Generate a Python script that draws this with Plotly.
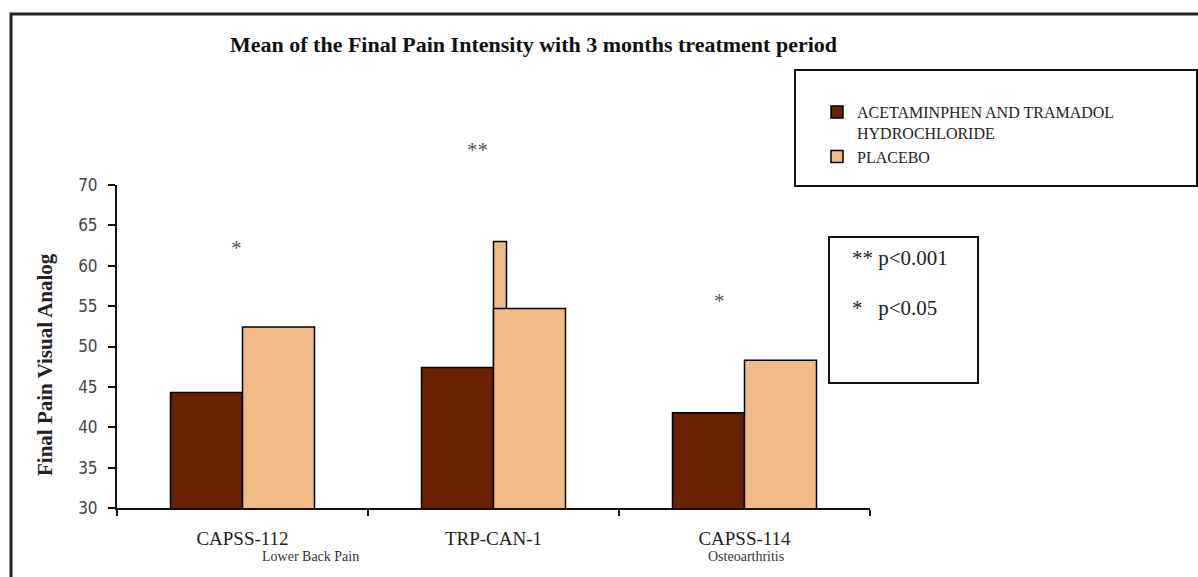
import plotly.graph_objects as go

# ---- data ----
categories = ["CAPSS-112", "TRP-CAN-1", "CAPSS-114"]
subtitles = ["Lower Back Pain", "", "Osteoarthritis"]
drug_values = [44.3, 47.4, 41.8]
placebo_values = [52.4, 54.7, 48.3]
spike_category = ["TRP-CAN-1"]
trp_spike_value = [63.0]          # narrow spike drawn on the TRP-CAN-1 placebo bar
significance = ["*", "**", "*"]
significance_y = [62.8, 74.9, 56.3]
y_ticks = [30, 35, 40, 45, 50, 55, 60, 65, 70]
y_range = [30, 70]

series_names = ["ACETAMINPHEN AND TRAMADOL<br>HYDROCHLORIDE", "PLACEBO"]
drug_color = "#6a2100"
placebo_color = "#f0b985"

W, H = 1198, 577
L, R, T, B = 117, 328, 185, 69
pw = W - L - R
ph = H - T - B

def px_x(x):
    return (x - L) / pw

def px_y(y):
    return (H - B - y) / ph

bw = 72 / (pw / 3)

fig = go.Figure()
fig.add_trace(go.Bar(
    x=categories, y=drug_values, name=series_names[0],
    width=bw, offset=-bw,
    marker=dict(color=drug_color, line=dict(color="black", width=1.5)),
))
fig.add_trace(go.Bar(
    x=spike_category, y=trp_spike_value, showlegend=False,
    width=13 / (pw / 3), offset=0,
    marker=dict(color=placebo_color, line=dict(color="black", width=1.5)),
))
fig.add_trace(go.Bar(
    x=categories, y=placebo_values, name=series_names[1],
    width=bw, offset=0,
    marker=dict(color=placebo_color, line=dict(color="black", width=1.5)),
))

serif = "Liberation Serif, Times New Roman, serif"

annotations = []
# subtitles under category labels
sub_shift = [68, 0, 1]
for i, s in enumerate(subtitles):
    if s:
        annotations.append(dict(
            x=categories[i], y=0, xref="x", yref="paper", text=s, showarrow=False,
            xshift=sub_shift[i], yshift=-48, yanchor="middle",
            font=dict(family=serif, size=14, color="#333")))
# significance stars (placed in axis units via the y range, so they may sit above it)
star_shift = [-6, -16, -25]
for i, s in enumerate(significance):
    annotations.append(dict(
        x=categories[i], y=(significance_y[i] - y_range[0]) / (y_range[1] - y_range[0]),
        xref="x", yref="paper", text=s, showarrow=False,
        xshift=star_shift[i], yshift=-5, yanchor="middle",
        font=dict(family=serif, size=21, color="#555")))
# p-value box texts
annotations.append(dict(x=px_x(850), y=px_y(258), xref="paper", yref="paper",
                        text="** p<0.001", showarrow=False, xanchor="left", yanchor="middle",
                        font=dict(family=serif, size=21, color="#222")))
annotations.append(dict(x=px_x(850), y=px_y(308), xref="paper", yref="paper",
                        text="*&nbsp;&nbsp;&nbsp;p<0.05", showarrow=False, xanchor="left", yanchor="middle",
                        font=dict(family=serif, size=21, color="#222")))
# title
annotations.append(dict(x=px_x(533), y=px_y(44), xref="paper", yref="paper",
                        text="<b>Mean of the Final Pain Intensity with 3 months treatment period</b>",
                        showarrow=False, xanchor="center", yanchor="middle",
                        font=dict(family=serif, size=22, color="#111")))
# y-axis title
annotations.append(dict(x=px_x(45), y=px_y(365), xref="paper", yref="paper",
                        text="<b>Final Pain Visual Analog</b>", textangle=-90,
                        showarrow=False, xanchor="center", yanchor="middle",
                        font=dict(family=serif, size=21, color="#222")))

shapes = [
    dict(type="rect", xref="paper", yref="paper",
         x0=px_x(11), x1=px_x(1202), y0=px_y(600), y1=px_y(14),
         line=dict(color="#222", width=3)),
    dict(type="rect", xref="paper", yref="paper",
         x0=px_x(795), x1=px_x(1197), y0=px_y(186), y1=px_y(70),
         line=dict(color="#111", width=2)),
    dict(type="rect", xref="paper", yref="paper",
         x0=px_x(829), x1=px_x(978), y0=px_y(383), y1=px_y(237),
         line=dict(color="#111", width=2)),
]

fig.update_layout(
    width=W, height=H,
    margin=dict(l=L, r=R, t=T, b=B, autoexpand=False),
    paper_bgcolor="white", plot_bgcolor="white",
    barmode="overlay",
    showlegend=True,
    legend=dict(xref="container", yref="container",
                x=817 / W, y=1 - 95 / H, xanchor="left", yanchor="top",
                bgcolor="rgba(0,0,0,0)", borderwidth=0, valign="top",
                tracegroupgap=0, traceorder="normal",
                font=dict(family=serif, size=16, color="#222")),
    xaxis=dict(
        type="category", categoryorder="array", categoryarray=categories,
        range=[-0.5, 2.5], tickson="boundaries", ticks="outside",
        ticklen=6, tickwidth=2, tickcolor="#111",
        showline=True, linecolor="#111", linewidth=2,
        showgrid=False, zeroline=False, ticklabelstandoff=12,
        tickfont=dict(family=serif, size=19, color="#222"),
    ),
    yaxis=dict(
        range=y_range, tickmode="array", tickvals=y_ticks,
        ticks="outside", ticklen=7, tickwidth=2, tickcolor="#111",
        showline=True, linecolor="#111", linewidth=2,
        showgrid=False, zeroline=False, ticklabelstandoff=7,
        tickfont=dict(family="DejaVu Sans Condensed, DejaVu Sans, sans-serif", size=17, color="#444"),
    ),
    annotations=annotations,
    shapes=shapes,
)

fig.write_html("out.html", config={"displayModeBar": False},
               post_script="document.body.style.margin='0px';")
